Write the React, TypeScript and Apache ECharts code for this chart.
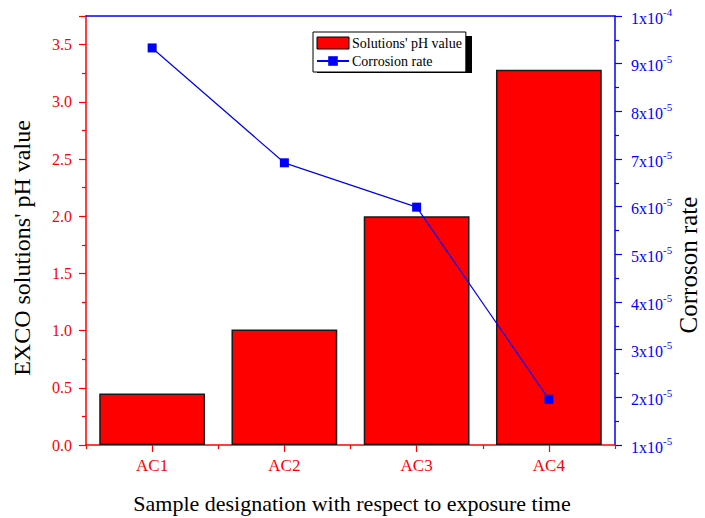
import React, { useEffect, useRef } from "react";
import * as echarts from "echarts";

const categories = ["AC1", "AC2", "AC3", "AC4"];
const phValues = [0.45, 1.01, 2.0, 3.28];
const corrosionRate = [9.33e-5, 6.92e-5, 5.99e-5, 1.96e-5];
const rateUnit = 1e-5;
const leftMax = 3.75;

const FONT = "Liberation Serif";
const RED = "#ff0000";
const BLUE = "#0000ff";

export default function App() {
  const ref = useRef<HTMLDivElement>(null);
  useEffect(() => {
    if (!ref.current) return;
    const chart = echarts.init(ref.current, undefined, { renderer: "svg" });
    const option: any = {
      animation: false,
      backgroundColor: "#ffffff",
      textStyle: { fontFamily: FONT },
      grid: { left: 86, right: 90, top: 16, bottom: 73, containLabel: false },
      legend: {
        orient: "vertical",
        left: 313,
        top: 32,
        padding: [4, 4, 4, 3],
        itemGap: 4,
        itemWidth: 32,
        itemHeight: 12,
        backgroundColor: "#ffffff",
        borderColor: "#000000",
        borderWidth: 1,
        textStyle: { fontFamily: FONT, fontSize: 14, color: "#000000", padding: [0, 0, 0, -2] },
        z: 10,
        data: [
          { name: "Solutions' pH value", icon: "rect", itemStyle: { color: RED, borderColor: "#000", borderWidth: 1 } },
          { name: "Corrosion rate" },
        ],
      },
      graphic: [
        { type: "rect", z: 1, shape: { x: 317, y: 36, width: 155, height: 37 }, style: { fill: "#000000" } },
        {
          type: "text",
          x: 22,
          y: 248,
          rotation: Math.PI / 2,
          style: { text: "EXCO solutions' pH value", font: `24px "${FONT}"`, fill: "#000", align: "center", verticalAlign: "middle" },
        },
        {
          type: "text",
          x: 688,
          y: 265,
          rotation: Math.PI / 2,
          style: { text: "Corroson rate", font: `25px "${FONT}"`, fill: "#000", align: "center", verticalAlign: "middle" },
        },
        {
          type: "text",
          x: 352,
          y: 503,
          style: { text: "Sample designation with respect to exposure time", font: `22px "${FONT}"`, fill: "#000", align: "center", verticalAlign: "middle" },
        },
      ],
      xAxis: [
        {
          type: "category",
          data: categories,
          position: "bottom",
          axisLine: { show: true, lineStyle: { color: RED, width: 1.5 } },
          axisTick: { show: true, alignWithLabel: true, length: 7, lineStyle: { color: RED, width: 1.2 } },
          axisLabel: { color: RED, fontFamily: FONT, fontSize: 17, margin: 12 },
          splitLine: { show: false },
        },
        {
          type: "category",
          data: categories,
          position: "bottom",
          offset: 0,
          axisLine: { show: false },
          axisTick: { show: true, length: 4, lineStyle: { color: RED, width: 1.2 } },
          axisLabel: { show: false },
          splitLine: { show: false },
        },
        {
          type: "category",
          data: categories,
          position: "top",
          offset: 0,
          axisLine: { show: true, lineStyle: { color: BLUE, width: 1.5 } },
          axisTick: { show: false },
          axisLabel: { show: false },
          splitLine: { show: false },
        },
      ],
      yAxis: [
        {
          type: "value",
          min: 0,
          max: leftMax,
          interval: 0.5,
          position: "left",
          axisLine: { show: true, lineStyle: { color: RED, width: 1.5 } },
          axisTick: { show: true, length: 7, lineStyle: { color: RED, width: 1.2 } },
          minorTick: { show: true, splitNumber: 2, length: 4, lineStyle: { color: RED, width: 1.2 } },
          axisLabel: {
            color: RED,
            fontFamily: FONT,
            fontSize: 16,
            margin: 14,
            formatter: (v: number) => (Math.abs(v / 0.5 - Math.round(v / 0.5)) < 1e-6 ? v.toFixed(1) : ""),
          },
          splitLine: { show: false },
        },
        {
          type: "value",
          min: 1,
          max: 10,
          interval: 1,
          position: "right",
          axisLine: { show: true, lineStyle: { color: BLUE, width: 1.5 } },
          axisTick: { show: true, length: 7, lineStyle: { color: BLUE, width: 1.2 } },
          minorTick: { show: true, splitNumber: 2, length: 4, lineStyle: { color: BLUE, width: 1.2 } },
          axisLabel: {
            color: BLUE,
            fontFamily: FONT,
            margin: 16,
            formatter: (v: number) => (v >= 10 ? `{b|1x10}{s|-4}` : `{b|${Math.round(v)}x10}{s|-5}`),
            rich: {
              b: { fontFamily: FONT, fontSize: 16, color: BLUE, lineHeight: 20, verticalAlign: "bottom" },
              s: { fontFamily: FONT, fontSize: 11, color: BLUE, lineHeight: 20, verticalAlign: "top", padding: [0, 0, 7, 0] },
            },
          },
          splitLine: { show: false },
        },
      ],
      series: [
        {
          name: "Solutions' pH value",
          type: "bar",
          xAxisIndex: 0,
          yAxisIndex: 0,
          data: phValues,
          barCategoryGap: "20%",
          itemStyle: { color: RED, borderColor: "#1a1a1a", borderWidth: 1.5 },
          z: 2,
        },
        {
          name: "Corrosion rate",
          type: "line",
          xAxisIndex: 0,
          yAxisIndex: 1,
          data: corrosionRate.map((v) => v / rateUnit),
          symbol: "rect",
          symbolSize: 9,
          lineStyle: { color: BLUE, width: 1.2 },
          itemStyle: { color: BLUE },
          z: 3,
        },
      ],
    };
    chart.setOption(option);
    return () => chart.dispose();
  }, []);
  return <div ref={ref} style={{ position: "fixed", left: 0, top: 0, width: 705, height: 518 }} />;
}
